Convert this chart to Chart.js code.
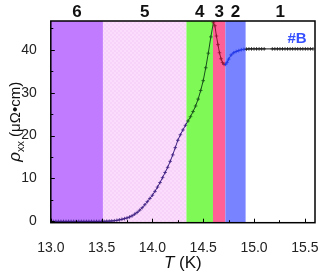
<!DOCTYPE html>
<html lang="en">
<head>
  <meta charset="UTF-8">
  <title>rho_xx vs T</title>
  <script src="https://cdn.jsdelivr.net/npm/chart.js"></script>
  <style>
    html, body { margin: 0; padding: 0; background: #fff; }
    #wrap { width: 323px; height: 279px; position: relative; }
  </style>
</head>
<body>
  <div id="wrap"><canvas id="chart"></canvas></div>

  <script>
    // data (T in K, rho in uOhm cm)
    const temps = [
      13.000, 13.025, 13.050, 13.075, 13.100, 13.125, 13.150, 13.175, 13.200, 13.225,
      13.250, 13.275, 13.300, 13.325, 13.350, 13.375, 13.400, 13.425, 13.450, 13.475,
      13.500, 13.525, 13.550, 13.575, 13.600, 13.625, 13.650, 13.675, 13.700, 13.725,
      13.750, 13.775, 13.800, 13.825, 13.850, 13.875, 13.900, 13.925, 13.950, 13.975,
      14.000, 14.025, 14.050, 14.075, 14.100, 14.125, 14.150, 14.175, 14.200, 14.225,
      14.250, 14.275, 14.300, 14.325, 14.350, 14.375, 14.400, 14.425, 14.450, 14.475,
      14.500, 14.525, 14.550, 14.575, 14.600, 14.615, 14.630, 14.645, 14.660, 14.675,
      14.690, 14.705, 14.720, 14.735, 14.750, 14.775, 14.800, 14.825, 14.850, 14.875,
      14.900, 14.925, 14.950, 14.975, 15.000, 15.025, 15.050, 15.075, 15.100, 15.180,
      15.205, 15.230, 15.255, 15.280, 15.305, 15.330, 15.355, 15.380, 15.405, 15.430,
      15.455, 15.480, 15.505, 15.530, 15.555, 15.580
    ];
    const rho = [
      0.00, 0.00, 0.00, 0.00, 0.00, 0.00, 0.00, 0.00, 0.00, 0.00,
      0.00, 0.00, 0.00, 0.00, 0.00, 0.00, 0.00, 0.00, 0.00, 0.00,
      0.00, 0.02, 0.05, 0.07, 0.10, 0.16, 0.25, 0.36, 0.50, 0.64,
      0.80, 1.03, 1.30, 1.68, 2.10, 2.62, 3.20, 3.88, 4.60, 5.35,
      6.10, 7.00, 8.00, 9.05, 10.20, 11.40, 12.60, 14.00, 15.50, 17.20,
      18.90, 20.20, 21.30, 22.40, 23.40, 24.40, 25.60, 26.90, 28.50, 30.50,
      32.80, 35.80, 39.20, 43.00, 46.30, 45.60, 43.20, 41.20, 39.30, 37.90,
      37.00, 36.60, 36.60, 37.10, 37.80, 38.80, 39.30, 39.60, 39.80, 40.00,
      40.10, 40.15, 40.20, 40.20, 40.20, 40.20, 40.20, 40.20, 40.20, 40.20,
      40.20, 40.20, 40.20, 40.20, 40.20, 40.20, 40.20, 40.20, 40.20, 40.20,
      40.20, 40.20, 40.20, 40.20, 40.20, 40.20
    ];

    // temperature regions, left to right
    const regionEdges = [13.0, 13.513, 14.335, 14.596, 14.718, 14.917, 15.6];
    const regionNames = ['6', '5', '4', '3', '2', '1'];
    const regionFill = ['#c07bff', 'pattern', '#7ef956', '#ff6196', '#7883ff', null];
    const lineColors = ['#3b1e80', '#3b1e80', '#17501a', '#8a1530', '#1f36e6', '#111111'];

    const xTicks = [13.0, 13.5, 14.0, 14.5, 15.0, 15.5];
    const xMinor = [13.25, 13.75, 14.25, 14.75, 15.25];
    const yTicks = [0, 10, 20, 30, 40];
    const yMinor = [5, 15, 25, 35, 45];

    function regionOf(t) {
      for (let i = 1; i < regionEdges.length - 1; i++) {
        if (t < regionEdges[i]) return i - 1;
      }
      return regionEdges.length - 2;
    }

    // light pink checker for region 5
    function makePattern(ctx) {
      const c = document.createElement('canvas');
      c.width = 4; c.height = 4;
      const g = c.getContext('2d');
      g.fillStyle = '#fcdcfc'; g.fillRect(0, 0, 4, 4);
      g.fillStyle = '#f7d2f9'; g.fillRect(0, 0, 2, 2); g.fillRect(2, 2, 2, 2);
      return ctx.createPattern(c, 'repeat');
    }

    const FONT = '"Liberation Sans", Arial, sans-serif';

    const decor = {
      id: 'decor',
      beforeDatasetsDraw(chart) {
        const { ctx, chartArea: a, scales: { x } } = chart;
        ctx.save();
        for (let i = 0; i < regionNames.length; i++) {
          if (!regionFill[i]) continue;
          const x0 = x.getPixelForValue(regionEdges[i]);
          const x1 = x.getPixelForValue(regionEdges[i + 1]);
          ctx.fillStyle = regionFill[i] === 'pattern' ? makePattern(ctx) : regionFill[i];
          ctx.fillRect(x0, a.top, x1 - x0, a.bottom - a.top);
        }
        ctx.restore();
      },
      afterDatasetsDraw(chart) {
        const { ctx, chartArea: a, scales: { x, y } } = chart;
        ctx.save();
        // frame
        ctx.strokeStyle = '#000';
        ctx.lineWidth = 1.5;
        ctx.strokeRect(a.left, a.top, a.right - a.left, a.bottom - a.top);

        // inward ticks
        ctx.lineWidth = 1;
        ctx.beginPath();
        xTicks.forEach(v => { const p = Math.round(x.getPixelForValue(v)) + 0.5; ctx.moveTo(p, a.bottom); ctx.lineTo(p, a.bottom - 4); });
        xMinor.forEach(v => { const p = Math.round(x.getPixelForValue(v)) + 0.5; ctx.moveTo(p, a.bottom); ctx.lineTo(p, a.bottom - 2.5); });
        yTicks.forEach(v => { const p = Math.round(y.getPixelForValue(v)) + 0.5; ctx.moveTo(a.left, p); ctx.lineTo(a.left + 4, p); });
        yMinor.forEach(v => { const p = Math.round(y.getPixelForValue(v)) + 0.5; ctx.moveTo(a.left, p); ctx.lineTo(a.left + 2.5, p); });
        ctx.stroke();

        // region numbers
        ctx.fillStyle = '#111';
        ctx.font = 'bold 17px ' + FONT;
        ctx.textAlign = 'center';
        ctx.textBaseline = 'alphabetic';
        for (let i = 0; i < regionNames.length; i++) {
          const cx = (x.getPixelForValue(regionEdges[i]) + x.getPixelForValue(regionEdges[i + 1])) / 2;
          ctx.fillText(regionNames[i], cx, 17);
        }

        // sample tag
        ctx.fillStyle = '#3550ff';
        ctx.font = 'bold 15px ' + FONT;
        ctx.fillText('#B', 297, 43);

        // x title
        ctx.fillStyle = '#111';
        ctx.font = 'italic 17px ' + FONT;
        const tW = ctx.measureText('T').width;
        ctx.font = '17px ' + FONT;
        const rW = ctx.measureText(' (K)').width;
        let sx = (a.left + a.right) / 2 - (tW + rW) / 2;
        ctx.textAlign = 'left';
        ctx.font = 'italic 17px ' + FONT;
        ctx.fillText('T', sx, 268);
        ctx.font = '17px ' + FONT;
        ctx.fillText(' (K)', sx + tW, 268);

        // y title, rotated
        ctx.translate(20, (a.top + a.bottom) / 2);
        ctx.rotate(-Math.PI / 2);
        ctx.font = 'italic 17px ' + FONT;
        const pW = ctx.measureText('ρ').width;
        ctx.font = '11px ' + FONT;
        const sW = ctx.measureText('xx').width;
        ctx.font = '15px ' + FONT;
        const uW = ctx.measureText(' (μΩ•cm)').width;
        let px = -(pW + sW + uW) / 2;
        ctx.font = 'italic 17px ' + FONT;
        ctx.fillText('ρ', px, 0);
        ctx.font = '11px ' + FONT;
        ctx.fillText('xx', px + pW, 4);
        ctx.font = '15px ' + FONT;
        ctx.fillText(' (μΩ•cm)', px + pW + sW, 0);
        ctx.restore();
      }
    };

    const points = temps.map((t, i) => ({ x: t, y: rho[i] }));

    new Chart(document.getElementById('chart'), {
      type: 'line',
      data: {
        datasets: [{
          data: points,
          borderWidth: 1,
          borderColor: '#111',
          segment: { borderColor: c => lineColors[regionOf(temps[c.p0DataIndex])] },
          pointStyle: 'cross',
          pointRadius: 1.8,
          pointBorderWidth: 0.8,
          pointBorderColor: c => lineColors[regionOf(temps[c.dataIndex])],
          tension: 0
        }]
      },
      plugins: [decor],
      options: {
        responsive: true,
        maintainAspectRatio: false,
        animation: false,
        events: [],
        layout: { padding: { top: 21, right: 8, left: 0, bottom: 0 } },
        plugins: { legend: { display: false }, tooltip: { enabled: false } },
        scales: {
          x: {
            type: 'linear',
            min: 13.0,
            max: 15.6,
            afterBuildTicks: s => { s.ticks = xTicks.map(v => ({ value: v })); },
            afterFit: s => { s.height = 56.3; s.paddingLeft = 0; s.paddingRight = 0; },
            grid: { display: false },
            border: { display: false },
            ticks: { padding: 9, maxRotation: 0, autoSkip: false, color: '#222', font: { family: FONT, size: 14 }, callback: v => v.toFixed(1) }
          },
          y: {
            min: -0.3,
            max: 46.7,
            afterBuildTicks: s => { s.ticks = yTicks.map(v => ({ value: v })); },
            afterFit: s => { s.width = 50.8; s.paddingTop = 0; s.paddingBottom = 0; },
            grid: { display: false },
            border: { display: false },
            ticks: { padding: 6, color: '#222', font: { family: FONT, size: 14 } }
          }
        }
      }
    });
  </script>
</body>
</html>
